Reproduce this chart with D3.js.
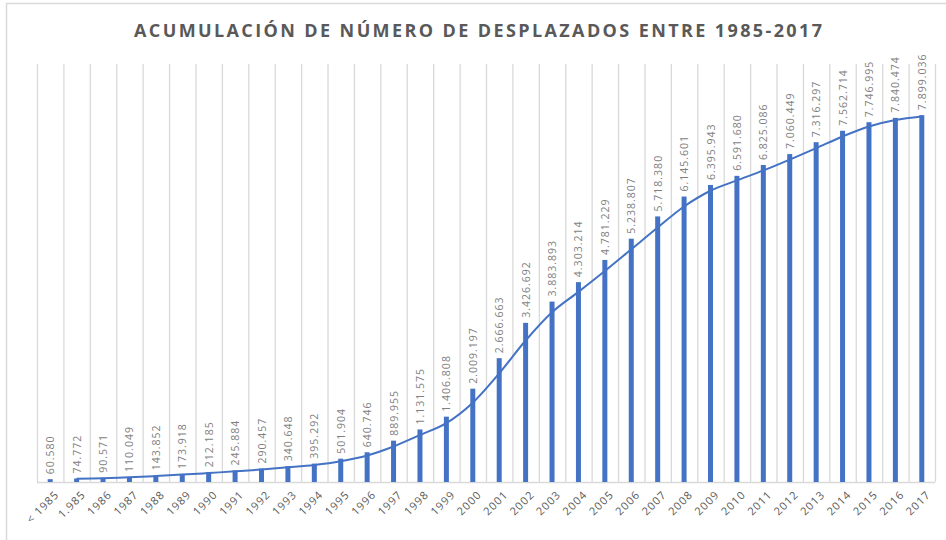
<!DOCTYPE html>
<html>
<head>
<meta charset="utf-8">
<script src="https://cdn.jsdelivr.net/npm/d3@7"></script>
<style>
  body { margin: 0; background: #fff; }
  text { font-family: "Open Sans", sans-serif; fill: #595959; }
  text.val { fill: #7f7f7f; }
</style>
</head>
<body>
<svg width="946" height="540"></svg>
<script>
// categorias y valores acumulados
const categories = ['< 1985', '1.985', '1986', '1987', '1988', '1989', '1990', '1991', '1992', '1993',
  '1994', '1995', '1996', '1997', '1998', '1999', '2000', '2001', '2002', '2003', '2004', '2005',
  '2006', '2007', '2008', '2009', '2010', '2011', '2012', '2013', '2014', '2015', '2016', '2017'];
const values = [60580, 74772, 90571, 110049, 143852, 173918, 212185, 245884, 290457, 340648,
  395292, 501904, 640746, 889955, 1131575, 1406808, 2009197, 2666663, 3426692, 3883893, 4303214, 4781229,
  5238807, 5718380, 6145601, 6395943, 6591680, 6825086, 7060449, 7316297, 7562714, 7746995, 7840474, 7899036];
const labels = ['60.580', '74.772', '90.571', '110.049', '143.852', '173.918', '212.185', '245.884', '290.457', '340.648',
  '395.292', '501.904', '640.746', '889.955', '1.131.575', '1.406.808', '2.009.197', '2.666.663', '3.426.692', '3.883.893',
  '4.303.214', '4.781.229', '5.238.807', '5.718.380', '6.145.601', '6.395.943', '6.591.680', '6.825.086', '7.060.449',
  '7.316.297', '7.562.714', '7.746.995', '7.840.474', '7.899.036'];

const data = categories.map((c, i) => ({cat: c, value: values[i], label: labels[i]}));

// linea de tendencia: media movil de 2 periodos (como Excel), empieza en el segundo punto
const trend = data.slice(1).map((d, i) => ({cat: d.cat, value: (data[i].value + d.value) / 2}));

const svg = d3.select('svg');

// borde del grafico
svg.append('path')
  .attr('d', 'M6.5,540 L6.5,3.5 L946,3.5')
  .attr('fill', 'none')
  .attr('stroke', '#d9d9d9')
  .attr('stroke-width', 1.5);

svg.append('text')
  .attr('x', 478).attr('y', 37)
  .attr('text-anchor', 'middle')
  .attr('font-size', 18)
  .attr('font-weight', 700)
  .attr('textLength', 688)
  .attr('lengthAdjust', 'spacing')
  .text('ACUMULACIÓN DE NÚMERO DE DESPLAZADOS ENTRE 1985-2017');

const plotL = 37, plotR = 935, plotT = 64, plotB = 482;

const x = d3.scaleBand().domain(categories).range([plotL, plotR]);
const y = d3.scaleLinear().domain([0, 9000000]).range([plotB, plotT]);

// lineas verticales entre categorias
svg.append('g')
  .selectAll('line')
  .data(d3.range(categories.length + 1))
  .join('line')
  .attr('x1', i => plotL + i * x.step() + 0.5)
  .attr('x2', i => plotL + i * x.step() + 0.5)
  .attr('y1', plotT).attr('y2', plotB)
  .attr('stroke', '#d9d9d9')
  .attr('stroke-width', 1.3);

svg.append('line')
  .attr('x1', plotL).attr('x2', plotR)
  .attr('y1', plotB + 0.5).attr('y2', plotB + 0.5)
  .attr('stroke', '#d9d9d9')
  .attr('stroke-width', 1.3);

const barW = 5;
svg.append('g')
  .selectAll('rect')
  .data(data)
  .join('rect')
  .attr('x', d => x(d.cat) + x.bandwidth() / 2 - barW / 2)
  .attr('y', d => y(d.value))
  .attr('width', barW)
  .attr('height', d => plotB - y(d.value))
  .attr('fill', '#4472c4');

const line = d3.line()
  .x(d => x(d.cat) + x.bandwidth() / 2)
  .y(d => y(d.value))
  .curve(d3.curveCatmullRom.alpha(0.5));

svg.append('path')
  .datum(trend)
  .attr('d', line)
  .attr('fill', 'none')
  .attr('stroke', '#4472c4')
  .attr('stroke-width', 2);

// etiquetas de valor
svg.append('g')
  .selectAll('text')
  .data(data)
  .join('text')
  .attr('class', 'val')
  .attr('transform', d => `translate(${x(d.cat) + x.bandwidth() / 2 + 4},${y(d.value) - 5}) rotate(-90)`)
  .attr('font-size', 10.5)
  .attr('letter-spacing', 1)
  .text(d => d.label);

// etiquetas del eje x
svg.append('g')
  .selectAll('text')
  .data(categories)
  .join('text')
  .attr('transform', d => `translate(${x(d) + x.bandwidth() / 2 + 4},${plotB + 8}) rotate(-45)`)
  .attr('text-anchor', 'end')
  .attr('dy', '0.7em')
  .attr('font-size', 11)
  .attr('letter-spacing', 1)
  .text(d => d);
</script>
</body>
</html>
